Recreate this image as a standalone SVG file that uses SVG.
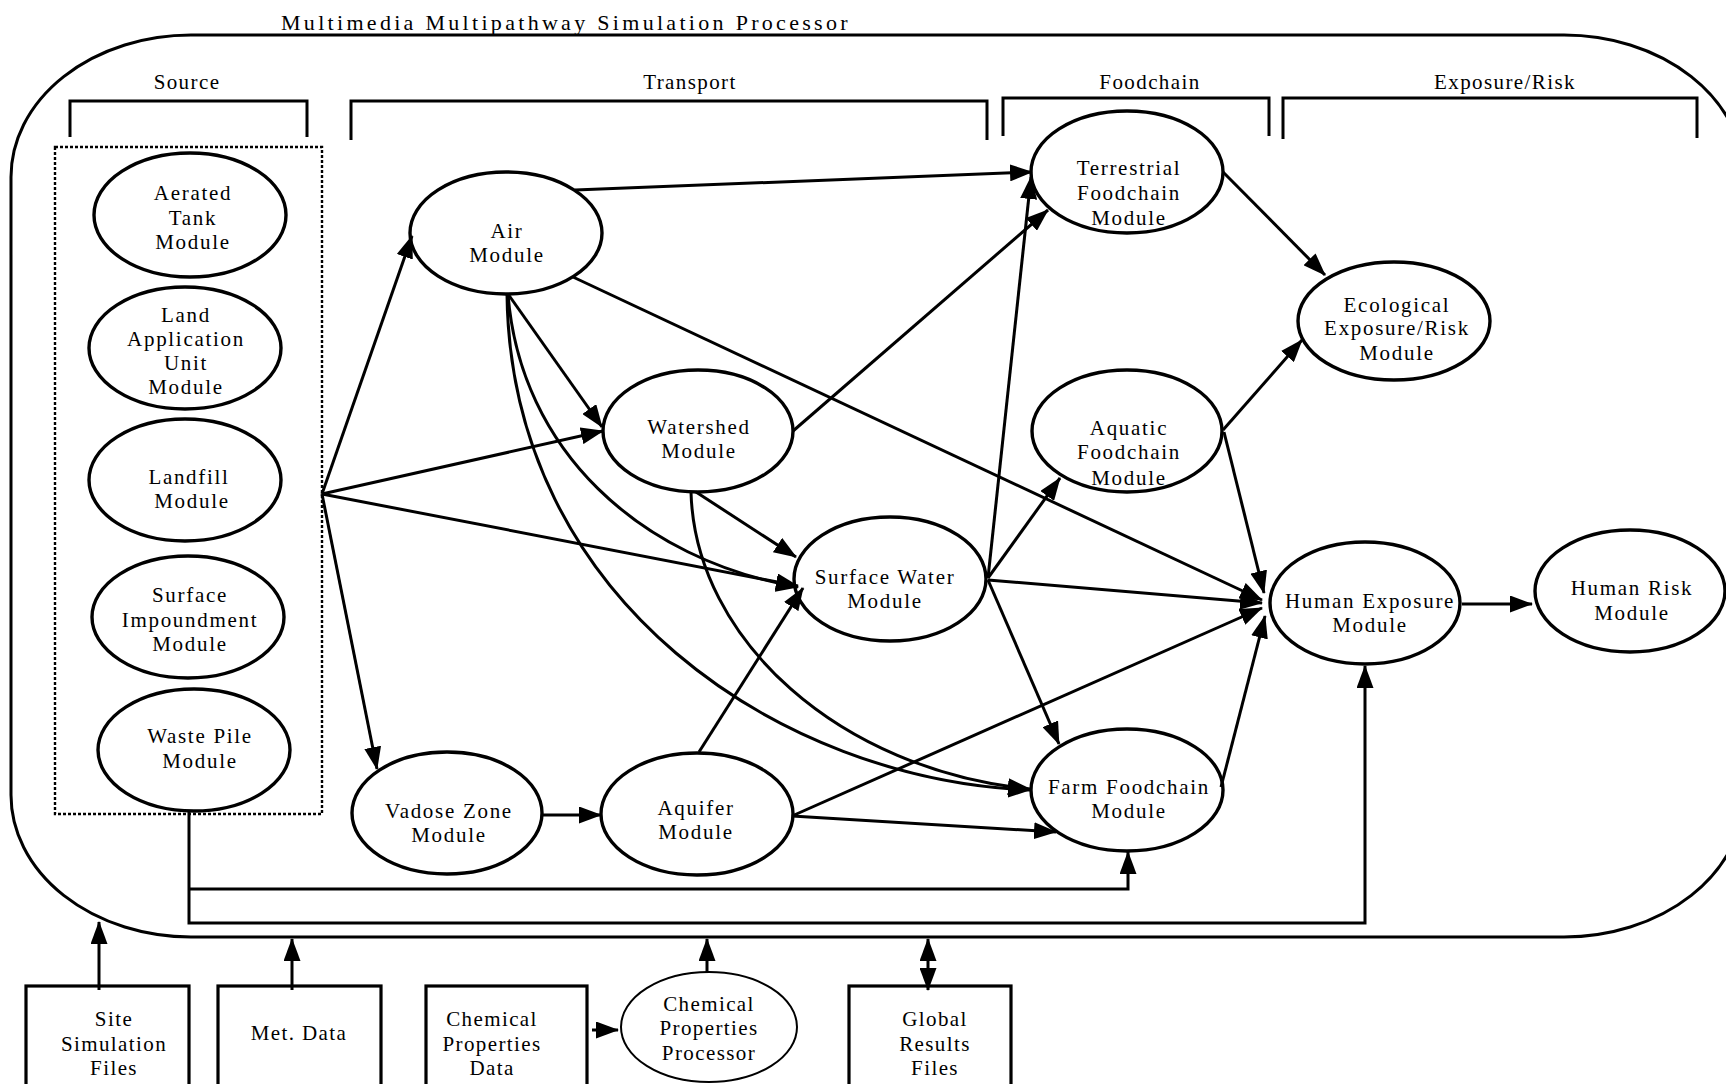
<svg xmlns="http://www.w3.org/2000/svg" width="1726" height="1084" viewBox="0 0 1726 1084">
<defs>
<style>
.t{font-family:"Liberation Serif","Times New Roman",serif;font-size:21px;letter-spacing:1.7px;text-anchor:middle;fill:#000}
.hd{letter-spacing:1.4px}
.title{font-size:22px;letter-spacing:3.3px;text-anchor:start}
.el{fill:none;stroke:#000;stroke-width:3.4}
.thin{stroke-width:2}
.bx{fill:none;stroke:#000;stroke-width:3.2}
.ln{fill:none;stroke:#000;stroke-width:3}
.ar{marker-end:url(#ah)}
.ar2{marker-start:url(#ah);marker-end:url(#ah)}
</style>
<marker id="ah" markerUnits="userSpaceOnUse" markerWidth="23" markerHeight="17" refX="22" refY="8.5" orient="auto-start-reverse" viewBox="0 0 23 17"><path d="M0,0 L23,8.5 L0,17 z" fill="#000"/></marker>
</defs>
<rect width="1726" height="1084" fill="#fff"/>

<g id="frame">
<path class="ln" d="M191,35 H1564 A180,142 0 0 1 1744,177 V795 A180,142 0 0 1 1564,937 H191 A180,142 0 0 1 11,795 V177 A180,142 0 0 1 191,35 Z"/>
<text class="t title" x="281" y="30">Multimedia Multipathway Simulation Processor</text>
</g>

<g id="headers">
<path class="ln" d="M70,137 V101 H307 V137"/>
<path class="ln" d="M351,140 V101 H987 V140"/>
<path class="ln" d="M1003,136 V98 H1269 V136"/>
<path class="ln" d="M1283,139 V98 H1697 V138"/>
<text class="t hd" x="187" y="89">Source</text>
<text class="t hd" x="690" y="89">Transport</text>
<text class="t hd" x="1150" y="89">Foodchain</text>
<text class="t hd" x="1505" y="89">Exposure/Risk</text>
</g>

<g id="source-group">
<rect x="55" y="147" width="267" height="667" fill="none" stroke="#000" stroke-width="2.4" stroke-dasharray="3 2"/>
</g>

<g id="connectors">
<line class="ln ar" x1="322" y1="494" x2="412" y2="236"/>
<line class="ln ar" x1="322" y1="494" x2="603" y2="431"/>
<line class="ln ar" x1="322" y1="494" x2="798" y2="586"/>
<line class="ln ar" x1="322" y1="494" x2="377" y2="769"/>
<line class="ln ar" x1="575" y1="190" x2="1032" y2="172"/>
<line class="ln ar" x1="573" y1="277" x2="1262" y2="600"/>
<line class="ln ar" x1="508" y1="294" x2="602" y2="427"/>
<path class="ln ar" d="M508,294 C520,450 640,560 798,587"/>
<path class="ln ar" d="M507,294 C510,600 780,780 1030,790"/>
<line class="ln ar" x1="793" y1="431" x2="1048" y2="210"/>
<line class="ln ar" x1="696" y1="492" x2="796" y2="557"/>
<path class="ln ar" d="M691,492 C695,640 840,770 1030,789"/>
<line class="ln ar" x1="988" y1="578" x2="1031" y2="177"/>
<line class="ln ar" x1="988" y1="578" x2="1060" y2="478"/>
<line class="ln ar" x1="988" y1="580" x2="1262" y2="603"/>
<line class="ln ar" x1="988" y1="580" x2="1059" y2="744"/>
<line class="ln ar" x1="699" y1="752" x2="803" y2="588"/>
<line class="ln ar" x1="792" y1="816" x2="1262" y2="608"/>
<line class="ln ar" x1="792" y1="816" x2="1056" y2="832"/>
<line class="ln ar" x1="542" y1="815" x2="601" y2="815"/>
<line class="ln ar" x1="1223" y1="172" x2="1325" y2="275"/>
<line class="ln ar" x1="1223" y1="430" x2="1302" y2="340"/>
<line class="ln ar" x1="1224" y1="432" x2="1264" y2="593"/>
<line class="ln ar" x1="1221" y1="787" x2="1265" y2="616"/>
<line class="ln ar" x1="1462" y1="604" x2="1532" y2="604"/>
<path class="ln ar" d="M189,811 V923 H1365 V666"/>
<path class="ln ar" d="M189,889 H1128 V852"/>
<line class="ln ar" x1="99" y1="990" x2="99" y2="922"/>
<line class="ln ar" x1="292" y1="990" x2="292" y2="939"/>
<line class="ln ar" x1="592" y1="1030" x2="618" y2="1030"/>
<line class="ln ar" x1="707" y1="972" x2="707" y2="939"/>
<line class="ln ar2" x1="928" y1="939" x2="928" y2="990"/>
</g>

<g id="aerated-tank"><ellipse class="el" cx="190" cy="215" rx="96" ry="62"/>
<text class="t" x="193" y="200">Aerated</text><text class="t" x="193" y="225">Tank</text><text class="t" x="193" y="249">Module</text></g>
<g id="land-application-unit"><ellipse class="el" cx="185" cy="348" rx="96" ry="61"/>
<text class="t" x="186" y="322">Land</text><text class="t" x="186" y="346">Application</text><text class="t" x="186" y="370">Unit</text><text class="t" x="186" y="394">Module</text></g>
<g id="landfill"><ellipse class="el" cx="185" cy="480" rx="96" ry="61"/>
<text class="t" x="189" y="484">Landfill</text><text class="t" x="192" y="508">Module</text></g>
<g id="surface-impoundment"><ellipse class="el" cx="188" cy="617" rx="96" ry="61"/>
<text class="t" x="190" y="602">Surface</text><text class="t" x="190" y="627">Impoundment</text><text class="t" x="190" y="651">Module</text></g>
<g id="waste-pile"><ellipse class="el" cx="194" cy="750" rx="96" ry="61"/>
<text class="t" x="200" y="743">Waste Pile</text><text class="t" x="200" y="768">Module</text></g>

<g id="air"><ellipse class="el" cx="506" cy="233" rx="96" ry="61"/>
<text class="t" x="507" y="238">Air</text><text class="t" x="507" y="262">Module</text></g>
<g id="watershed"><ellipse class="el" cx="698" cy="431" rx="95" ry="61"/>
<text class="t" x="699" y="434">Watershed</text><text class="t" x="699" y="458">Module</text></g>
<g id="surface-water"><ellipse class="el" cx="890" cy="579" rx="96" ry="62"/>
<text class="t" x="885" y="584">Surface Water</text><text class="t" x="885" y="608">Module</text></g>
<g id="vadose-zone"><ellipse class="el" cx="447" cy="813" rx="95" ry="61"/>
<text class="t" x="449" y="818">Vadose Zone</text><text class="t" x="449" y="842">Module</text></g>
<g id="aquifer"><ellipse class="el" cx="697" cy="814" rx="96" ry="61"/>
<text class="t" x="696" y="815">Aquifer</text><text class="t" x="696" y="839">Module</text></g>

<g id="terrestrial-foodchain"><ellipse class="el" cx="1127" cy="172" rx="96" ry="61"/>
<text class="t" x="1129" y="175">Terrestrial</text><text class="t" x="1129" y="200">Foodchain</text><text class="t" x="1129" y="225">Module</text></g>
<g id="aquatic-foodchain"><ellipse class="el" cx="1127" cy="431" rx="95" ry="61"/>
<text class="t" x="1129" y="435">Aquatic</text><text class="t" x="1129" y="459">Foodchain</text><text class="t" x="1129" y="485">Module</text></g>
<g id="farm-foodchain"><ellipse class="el" cx="1127" cy="790" rx="96" ry="61"/>
<text class="t" x="1129" y="794">Farm Foodchain</text><text class="t" x="1129" y="818">Module</text></g>

<g id="ecological-exposure-risk"><ellipse class="el" cx="1394" cy="321" rx="96" ry="59"/>
<text class="t" x="1397" y="312">Ecological</text><text class="t" x="1397" y="335">Exposure/Risk</text><text class="t" x="1397" y="360">Module</text></g>
<g id="human-exposure"><ellipse class="el" cx="1365" cy="603" rx="95" ry="61"/>
<text class="t" x="1370" y="608">Human Exposure</text><text class="t" x="1370" y="632">Module</text></g>
<g id="human-risk"><ellipse class="el" cx="1630" cy="591" rx="95" ry="61"/>
<text class="t" x="1632" y="595">Human Risk</text><text class="t" x="1632" y="620">Module</text></g>

<g id="site-simulation-files"><rect class="bx" x="26" y="986" width="163" height="110"/>
<text class="t hd" x="114" y="1026">Site</text><text class="t hd" x="114" y="1051">Simulation</text><text class="t hd" x="114" y="1075">Files</text></g>
<g id="met-data"><rect class="bx" x="218" y="986" width="163" height="110"/>
<text class="t hd" x="299" y="1040">Met. Data</text></g>
<g id="chemical-properties-data"><rect class="bx" x="426" y="986" width="161" height="110"/>
<text class="t hd" x="492" y="1026">Chemical</text><text class="t hd" x="492" y="1051">Properties</text><text class="t hd" x="492" y="1075">Data</text></g>
<g id="chemical-properties-processor"><ellipse class="el thin" cx="709" cy="1027" rx="88" ry="55"/>
<text class="t hd" x="709" y="1011">Chemical</text><text class="t hd" x="709" y="1035">Properties</text><text class="t hd" x="709" y="1060">Processor</text></g>
<g id="global-results-files"><rect class="bx" x="849" y="986" width="162" height="110"/>
<text class="t hd" x="935" y="1026">Global</text><text class="t hd" x="935" y="1051">Results</text><text class="t hd" x="935" y="1075">Files</text></g>
</svg>
